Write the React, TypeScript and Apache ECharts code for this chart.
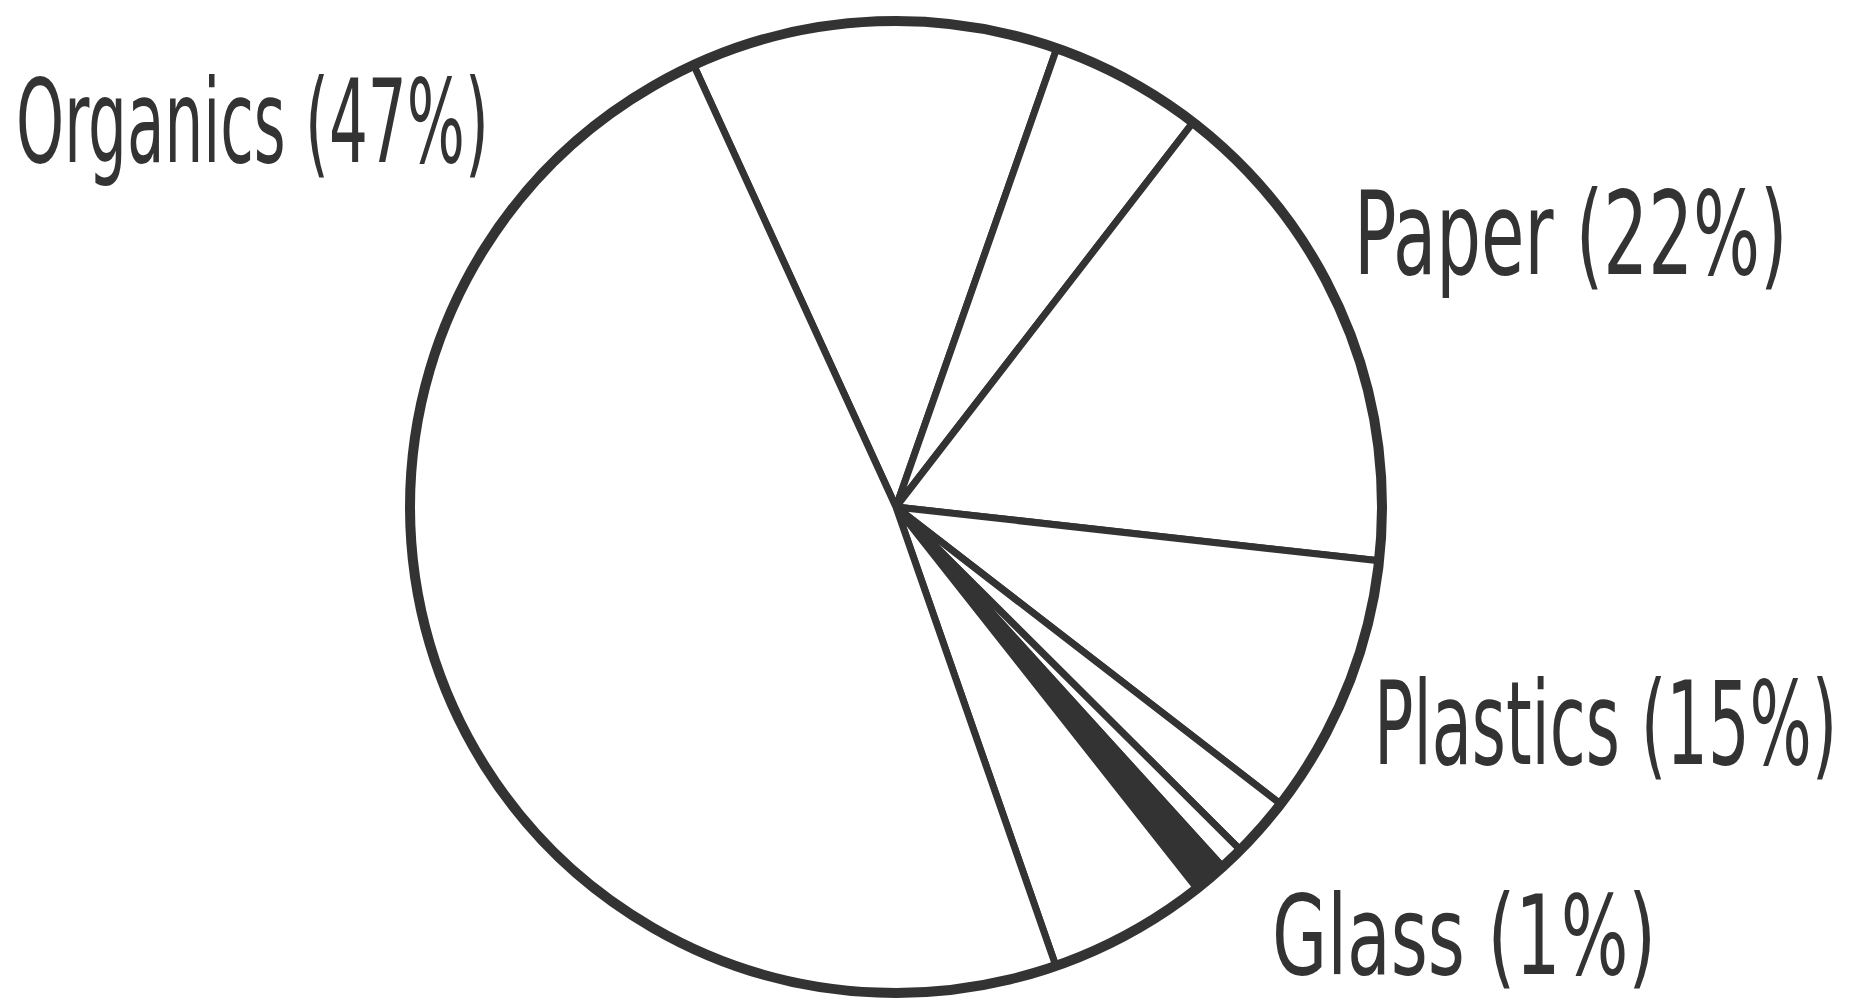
import React, { useEffect, useRef } from "react";
import * as echarts from "echarts";

// Slices listed clockwise, starting at the spoke just left of 12 o'clock
const categories = [
  "Slice A",
  "Slice B",
  "Paper",
  "Plastics",
  "Slice E",
  "Slice F",
  "Glass",
  "Slice H",
  "Organics",
];
const values = [12.2, 5.1, 16.3, 8.7, 2.0, 0.8, 1.1, 5.3, 48.5];
const filledSlices = ["Glass"];

const labelTexts = ["Organics (47%)", "Paper (22%)", "Plastics (15%)", "Glass (1%)"];

const INK = "#333333";

export default function App() {
  const ref = useRef<HTMLDivElement>(null);

  useEffect(() => {
    document.body.style.margin = "0";
    if (!ref.current) return;
    const chart = echarts.init(ref.current, undefined, { renderer: "svg" });

    const cx = 896;
    const cy = 507;
    const r = 486;

    const labelLayout = [
      { x: 16, y: 122, sx: 0.85, sy: 1.45 },
      { x: 1354, y: 234, sx: 0.98, sy: 1.45 },
      { x: 1374, y: 724, sx: 0.91, sy: 1.45 },
      { x: 1272, y: 936, sx: 0.99, sy: 1.38 },
    ];

    const font = '"Liberation Sans Narrow", "DejaVu Sans Condensed", "Liberation Sans", sans-serif';

    chart.setOption({
      animation: false,
      backgroundColor: "#ffffff",
      series: [
        {
          type: "pie",
          center: [cx, cy],
          radius: [0, r],
          startAngle: 90 - 335.4,
          clockwise: true,
          silent: true,
          avoidLabelOverlap: false,
          label: { show: false },
          labelLine: { show: false },
          emphasis: { disabled: true },
          itemStyle: {
            color: "#ffffff",
            borderColor: INK,
            borderWidth: 7,
            borderJoin: "round",
          },
          data: categories.map((name, i) => ({
            name,
            value: values[i],
            itemStyle: filledSlices.includes(name) ? { color: INK } : undefined,
          })),
        },
      ],
      graphic: [
        {
          type: "circle",
          z: 10,
          silent: true,
          shape: { cx, cy, r },
          style: { fill: "none", stroke: INK, lineWidth: 10 },
        },
        ...labelTexts.map((t, i) => ({
          type: "text",
          z: 10,
          x: labelLayout[i].x,
          y: labelLayout[i].y,
          originX: 0,
          originY: 0,
          scaleX: labelLayout[i].sx,
          scaleY: labelLayout[i].sy,
          style: {
            text: t,
            x: 0,
            y: 0,
            fill: INK,
            fontSize: 80,
            fontFamily: font,
            align: "left",
            verticalAlign: "middle",
          },
        })),
      ],
    });

    return () => chart.dispose();
  }, []);

  return <div ref={ref} style={{ width: 1858, height: 1005 }} />;
}
